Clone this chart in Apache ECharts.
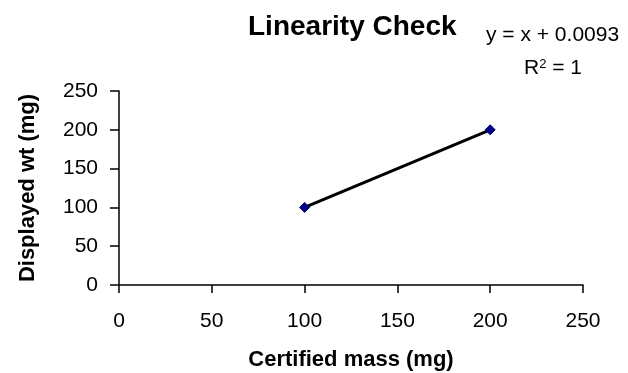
<!DOCTYPE html>
<html>
<head>
<meta charset="utf-8">
<script src="https://cdn.jsdelivr.net/npm/echarts@6/dist/echarts.min.js"></script>
<style>
  html, body { margin: 0; padding: 0; background: #fff; }
  #chart { width: 628px; height: 373px; }
</style>
</head>
<body>
<div id="chart"></div>
<script>
// Certified reference masses and the weights the balance displayed
var certifiedMass = [100, 200];
var displayedWt = [100.0093, 200.0093];
var axisTicks = [0, 50, 100, 150, 200, 250];
var trendText = 'y = x + 0.0093';

var FONT = '"Liberation Sans", Arial, sans-serif';
var chart = echarts.init(document.getElementById('chart'));

var points = certifiedMass.map(function (m, i) { return [m, displayedWt[i]]; });

chart.setOption({
  animation: false,
  backgroundColor: '#ffffff',
  title: {
    text: 'Linearity Check',
    left: 243,
    top: 8,
    textStyle: { fontFamily: FONT, fontSize: 28, fontWeight: 'bold', color: '#000' }
  },
  graphic: [
    {
      type: 'text',
      left: 486,
      top: 25,
      style: { text: trendText, font: '21px ' + FONT, fill: '#000' }
    },
    {
      type: 'text',
      left: 524,
      top: 58,
      style: {
        text: '{r|R}{s|2}{r| = 1}',
        rich: {
          r: { fontFamily: FONT, fontSize: 21, color: '#000', verticalAlign: 'bottom' },
          s: { fontFamily: FONT, fontSize: 13, color: '#000', verticalAlign: 'top', padding: [0, 0, 8, 0] }
        }
      }
    }
  ],
  grid: { left: 119, right: 45, top: 91, bottom: 88, outerBoundsMode: 'none', containLabel: false },
  xAxis: {
    type: 'value',
    min: axisTicks[0],
    max: axisTicks[axisTicks.length - 1],
    interval: axisTicks[1] - axisTicks[0],
    name: 'Certified mass (mg)',
    nameLocation: 'middle',
    nameGap: 64,
    nameTextStyle: { fontFamily: FONT, fontSize: 22, fontWeight: 'bold', color: '#000' },
    axisLine: { onZero: false, lineStyle: { color: '#000', width: 1.5 } },
    axisTick: { length: 8, lineStyle: { color: '#000', width: 1.5 } },
    axisLabel: { fontFamily: FONT, fontSize: 21, color: '#000', margin: 26 },
    splitLine: { show: false }
  },
  yAxis: {
    type: 'value',
    min: axisTicks[0],
    max: axisTicks[axisTicks.length - 1],
    interval: axisTicks[1] - axisTicks[0],
    name: 'Displayed wt (mg)',
    nameLocation: 'middle',
    nameGap: 80,
    nameTextStyle: { fontFamily: FONT, fontSize: 22, fontWeight: 'bold', color: '#000' },
    axisLine: { show: true, lineStyle: { color: '#000', width: 1.5 } },
    axisTick: { show: true, length: 9, lineStyle: { color: '#000', width: 1.5 } },
    axisLabel: { fontFamily: FONT, fontSize: 21, color: '#000', margin: 21 },
    splitLine: { show: false }
  },
  series: [
    {
      type: 'line',
      data: points,
      symbol: 'diamond',
      symbolSize: 10,
      lineStyle: { color: '#000', width: 3 },
      itemStyle: { color: '#000080', borderColor: '#000080' },
      z: 3
    }
  ]
});
</script>
</body>
</html>
